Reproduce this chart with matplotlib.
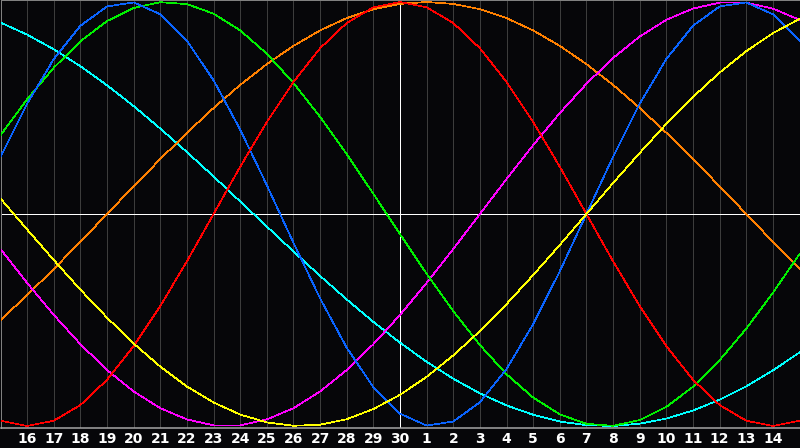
#!/usr/bin/env python3
# -*- coding: utf-8 -*-

# Biorhythm-style chart: seven cycles over a month window

import matplotlib
matplotlib.use("Agg")
import matplotlib.pyplot as plt
import numpy as np

# Day labels under the grid lines (one per day, 16th .. 14th of next month)
day_labels = [str(d) for d in range(16, 31)] + [str(d) for d in range(1, 15)]

# Curve values read at each day line, left edge to right edge (31 points)
blue = [0.270, 0.520, 0.731, 0.888, 0.979, 0.998, 0.942, 0.817, 0.631, 0.398,
        0.136, -0.136, -0.398, -0.631, -0.817, -0.942, -0.998, -0.979, -0.888,
        -0.731, -0.520, -0.270, 0.000, 0.270, 0.520, 0.731, 0.888, 0.979,
        0.998, 0.942, 0.817]
red = [-0.975, -1.000, -0.975, -0.901, -0.782, -0.623, -0.434, -0.223, 0.000,
       0.223, 0.434, 0.623, 0.782, 0.901, 0.975, 1.000, 0.975, 0.901, 0.782,
       0.623, 0.434, 0.223, 0.000, -0.223, -0.434, -0.623, -0.782, -0.901,
       -0.975, -1.000, -0.975]
green = [0.372, 0.541, 0.690, 0.815, 0.910, 0.972, 0.999, 0.990, 0.945, 0.866,
         0.756, 0.618, 0.458, 0.282, 0.095, -0.095, -0.282, -0.458, -0.618,
         -0.756, -0.866, -0.945, -0.990, -0.999, -0.972, -0.910, -0.815,
         -0.690, -0.541, -0.372, -0.189]
magenta = [-0.165, -0.325, -0.476, -0.614, -0.736, -0.837, -0.916, -0.969,
           -0.997, -0.997, -0.969, -0.916, -0.837, -0.736, -0.614, -0.476,
           -0.325, -0.165, 0.000, 0.165, 0.325, 0.476, 0.614, 0.736, 0.837,
           0.916, 0.969, 0.997, 0.997, 0.969, 0.916]
yellow = [0.073, -0.073, -0.217, -0.357, -0.489, -0.611, -0.720, -0.814,
          -0.889, -0.946, -0.983, -0.999, -0.994, -0.968, -0.920, -0.853,
          -0.768, -0.667, -0.552, -0.425, -0.288, -0.146, 0.000, 0.146, 0.288,
          0.425, 0.552, 0.667, 0.768, 0.853, 0.920]
orange = [-0.500, -0.383, -0.259, -0.131, 0.000, 0.131, 0.259, 0.383, 0.500,
          0.609, 0.707, 0.793, 0.866, 0.924, 0.966, 0.991, 1.000, 0.991, 0.966,
          0.924, 0.866, 0.793, 0.707, 0.609, 0.500, 0.383, 0.259, 0.131, 0.000,
          -0.131, -0.259]
cyan = [0.903, 0.846, 0.777, 0.697, 0.607, 0.509, 0.403, 0.292, 0.177, 0.059,
        -0.059, -0.177, -0.292, -0.403, -0.509, -0.607, -0.697, -0.777, -0.846,
        -0.903, -0.947, -0.979, -0.996, -1.000, -0.989, -0.965, -0.927, -0.876,
        -0.813, -0.738, -0.653]

BG = '#060609'
PX = 72 / 100  # one pixel in points


def main():
    fig = plt.figure(figsize=(8, 4.48), dpi=100, facecolor=BG)
    ax = fig.add_axes([0.5 / 800, 20 / 448, 799 / 800, 428 / 448])
    ax.set_facecolor(BG)

    x = np.arange(len(blue))
    series = [
        (cyan, '#00ffff'),
        (orange, '#ff8000'),
        (magenta, '#ff00ff'),
        (green, '#00f000'),
        (blue, '#0a64ff'),
        (red, '#ff0000'),
        (yellow, '#ffff00'),
    ]

    # day grid and the two white centre lines
    ticks = np.arange(1, len(day_labels) + 1)
    for t in ticks:
        ax.axvline(t, color='#3c3c3c', lw=PX * 0.7, zorder=1, antialiased=False)
    ax.axvline(len(x) // 2, color='white', lw=PX * 0.7, zorder=2, antialiased=False)
    ax.axhline(0, color='white', lw=PX * 0.7, zorder=2, antialiased=False)

    for vals, col in series:
        ax.plot(x, vals, color=col, lw=PX * 0.7, zorder=3, antialiased=False)

    ax.set_xlim(0, len(x) - 1)
    ax.set_ylim(-214 / 212, 214 / 212)
    ax.set_yticks([])
    ax.set_xticks(ticks, day_labels)
    ax.tick_params(axis='x', length=0, pad=3.0, labelsize=10, labelcolor='white')
    for lab in ax.get_xticklabels():
        lab.set_fontweight('bold')

    for side in ['left', 'top', 'right']:
        ax.spines[side].set_color('#808080')
        ax.spines[side].set_linewidth(PX)
    ax.spines['bottom'].set_color('#a8a8a8')
    ax.spines['bottom'].set_linewidth(PX * 1.5)

    fig.savefig('out.png', dpi=100, facecolor=BG)


if __name__ == "__main__":
    main()
